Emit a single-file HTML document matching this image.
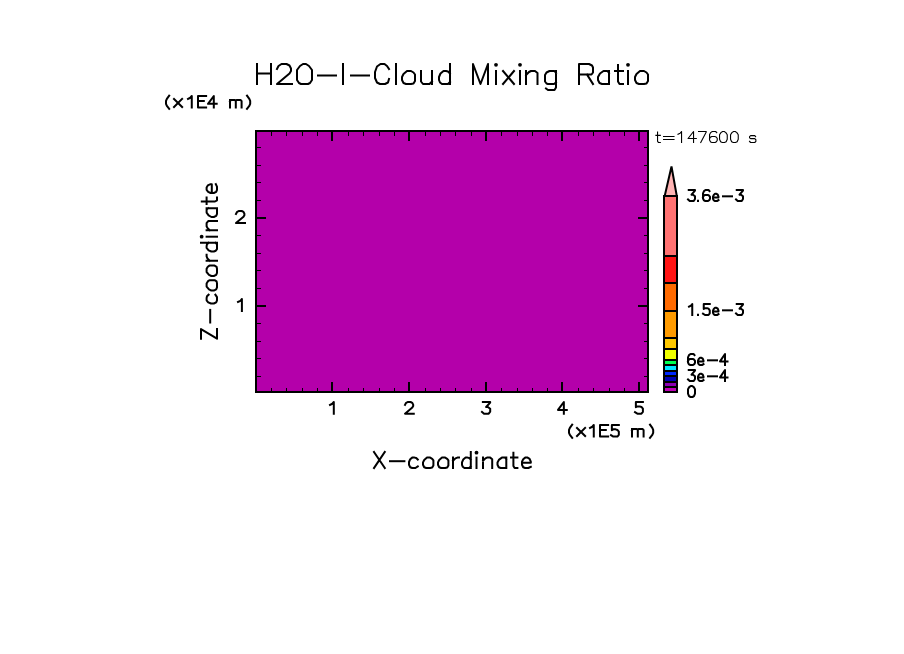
<!DOCTYPE html>
<html><head><meta charset="utf-8"><style>
html,body{margin:0;padding:0;background:#fff;}
body{width:904px;height:654px;overflow:hidden;font-family:"Liberation Sans",sans-serif;}
svg{display:block;}
</style></head><body>
<svg width="904" height="654" viewBox="0 0 904 654">
<rect x="0" y="0" width="904" height="654" fill="#fff"/>
<rect x="255" y="130" width="394" height="263" fill="#b400aa"/>
<g fill="#000" shape-rendering="crispEdges">
<rect x="271" y="132" width="1" height="4"/>
<rect x="271" y="388" width="1" height="3"/>
<rect x="286" y="132" width="1" height="4"/>
<rect x="286" y="388" width="1" height="3"/>
<rect x="302" y="132" width="1" height="4"/>
<rect x="302" y="388" width="1" height="3"/>
<rect x="317" y="132" width="1" height="4"/>
<rect x="317" y="388" width="1" height="3"/>
<rect x="331" y="132" width="2" height="9"/>
<rect x="331" y="382" width="2" height="9"/>
<rect x="348" y="132" width="1" height="4"/>
<rect x="348" y="388" width="1" height="3"/>
<rect x="363" y="132" width="1" height="4"/>
<rect x="363" y="388" width="1" height="3"/>
<rect x="379" y="132" width="1" height="4"/>
<rect x="379" y="388" width="1" height="3"/>
<rect x="394" y="132" width="1" height="4"/>
<rect x="394" y="388" width="1" height="3"/>
<rect x="408" y="132" width="2" height="9"/>
<rect x="408" y="382" width="2" height="9"/>
<rect x="425" y="132" width="1" height="4"/>
<rect x="425" y="388" width="1" height="3"/>
<rect x="440" y="132" width="1" height="4"/>
<rect x="440" y="388" width="1" height="3"/>
<rect x="455" y="132" width="1" height="4"/>
<rect x="455" y="388" width="1" height="3"/>
<rect x="471" y="132" width="1" height="4"/>
<rect x="471" y="388" width="1" height="3"/>
<rect x="485" y="132" width="2" height="9"/>
<rect x="485" y="382" width="2" height="9"/>
<rect x="501" y="132" width="1" height="4"/>
<rect x="501" y="388" width="1" height="3"/>
<rect x="517" y="132" width="1" height="4"/>
<rect x="517" y="388" width="1" height="3"/>
<rect x="532" y="132" width="1" height="4"/>
<rect x="532" y="388" width="1" height="3"/>
<rect x="547" y="132" width="1" height="4"/>
<rect x="547" y="388" width="1" height="3"/>
<rect x="561" y="132" width="2" height="9"/>
<rect x="561" y="382" width="2" height="9"/>
<rect x="578" y="132" width="1" height="4"/>
<rect x="578" y="388" width="1" height="3"/>
<rect x="593" y="132" width="1" height="4"/>
<rect x="593" y="388" width="1" height="3"/>
<rect x="609" y="132" width="1" height="4"/>
<rect x="609" y="388" width="1" height="3"/>
<rect x="624" y="132" width="1" height="4"/>
<rect x="624" y="388" width="1" height="3"/>
<rect x="638" y="132" width="2" height="9"/>
<rect x="638" y="382" width="2" height="9"/>
<rect x="257" y="376" width="4" height="1"/>
<rect x="644" y="376" width="3" height="1"/>
<rect x="257" y="358" width="4" height="1"/>
<rect x="644" y="358" width="3" height="1"/>
<rect x="257" y="341" width="4" height="1"/>
<rect x="644" y="341" width="3" height="1"/>
<rect x="257" y="323" width="4" height="1"/>
<rect x="644" y="323" width="3" height="1"/>
<rect x="257" y="305" width="9" height="2"/>
<rect x="638" y="305" width="9" height="2"/>
<rect x="257" y="288" width="4" height="1"/>
<rect x="644" y="288" width="3" height="1"/>
<rect x="257" y="270" width="4" height="1"/>
<rect x="644" y="270" width="3" height="1"/>
<rect x="257" y="253" width="4" height="1"/>
<rect x="644" y="253" width="3" height="1"/>
<rect x="257" y="235" width="4" height="1"/>
<rect x="644" y="235" width="3" height="1"/>
<rect x="257" y="217" width="9" height="2"/>
<rect x="638" y="217" width="9" height="2"/>
<rect x="257" y="200" width="4" height="1"/>
<rect x="644" y="200" width="3" height="1"/>
<rect x="257" y="182" width="4" height="1"/>
<rect x="644" y="182" width="3" height="1"/>
<rect x="257" y="165" width="4" height="1"/>
<rect x="644" y="165" width="3" height="1"/>
<rect x="257" y="147" width="4" height="1"/>
<rect x="644" y="147" width="3" height="1"/>
</g>
<rect x="256" y="131" width="392" height="261" fill="none" stroke="#000" stroke-width="2" shape-rendering="crispEdges"/>
<rect x="663" y="195" width="15" height="198" fill="#000"/>
<rect x="665" y="197" width="11" height="58" fill="#ff7272"/>
<rect x="665" y="257" width="11" height="25" fill="#ff1414"/>
<rect x="665" y="284" width="11" height="26" fill="#ff6a00"/>
<rect x="665" y="312" width="11" height="25" fill="#ff9b00"/>
<rect x="665" y="339" width="11" height="9" fill="#ffc800"/>
<rect x="665" y="350" width="11" height="9" fill="#f0ff00"/>
<rect x="665" y="361" width="11" height="3" fill="#00ff50"/>
<rect x="665" y="366" width="11" height="4" fill="#00e6ff"/>
<rect x="665" y="372" width="11" height="3" fill="#0028ff"/>
<rect x="665" y="377" width="11" height="4" fill="#0000b4"/>
<rect x="665" y="383" width="11" height="3" fill="#8c00b4"/>
<rect x="665" y="388" width="11" height="3" fill="#c000b8"/>
<path d="M664.7,196 L671.5,166.5 L676.8,196 Z" fill="#ffb4b4" stroke="#000" stroke-width="2" stroke-linejoin="miter"/>
<g fill="none" stroke="#000" stroke-linecap="square" stroke-linejoin="round">
<path transform="translate(257.00,64.00) scale(1.0,1.0)" d="M0,0V20M14,0V20M0,9.5H14" stroke-width="2" vector-effect="non-scaling-stroke"/>
<path transform="translate(277.00,64.00) scale(1.0,1.0)" d="M0,5L1.5,2L4.5,0H9.5L12.5,1.5L14,4.5V7L12.5,9.5L0,20H15" stroke-width="2" vector-effect="non-scaling-stroke"/>
<path transform="translate(297.00,64.00) scale(1.0,1.0)" d="M6,0H9L12,2L15,6V16L13,19L11,20H4L2,19L0,16V6L3,2Z" stroke-width="2" vector-effect="non-scaling-stroke"/>
<path transform="translate(318.00,64.00) scale(1.0,1.0)" d="M0,11.5H18" stroke-width="2" vector-effect="non-scaling-stroke"/>
<path transform="translate(343.00,64.00) scale(1.0,1.0)" d="M0,0V20" stroke-width="2" vector-effect="non-scaling-stroke"/>
<path transform="translate(351.00,64.00) scale(1.0,1.0)" d="M0,11.5H18" stroke-width="2" vector-effect="non-scaling-stroke"/>
<path transform="translate(375.00,64.00) scale(1.0,1.0)" d="M14,5L12,2L9.5,0H5.5L2,2.5L0,8V14L2,18.5L5,20H10L13,18.5L14,15" stroke-width="2" vector-effect="non-scaling-stroke"/>
<path transform="translate(396.00,64.00) scale(1.0,1.0)" d="M0,0V20" stroke-width="2" vector-effect="non-scaling-stroke"/>
<path transform="translate(402.00,64.00) scale(1.0,1.0)" d="M5,7H9L11.5,8.5L13,10.5V17L11.5,19.5L9,20H4L1.5,19L0,16V13L1.5,10Z" stroke-width="2" vector-effect="non-scaling-stroke"/>
<path transform="translate(421.00,64.00) scale(1.0,1.0)" d="M0,7V17.5L2,20H8.5L11,17.5M11,7V20" stroke-width="2" vector-effect="non-scaling-stroke"/>
<path transform="translate(439.00,64.00) scale(1.0,1.0)" d="M11,0V20M11,9.5L9,7.5L7,7H4.5L1.5,9.5L0,13V16L1,18.5L3,20H9L11,18" stroke-width="2" vector-effect="non-scaling-stroke"/>
<path transform="translate(473.00,64.00) scale(1.0,1.0)" d="M0,20V0L7.5,20L15,0V20" stroke-width="2" vector-effect="non-scaling-stroke"/>
<path transform="translate(496.00,64.00) scale(1.0,1.0)" d="M0,7V20" stroke-width="2" vector-effect="non-scaling-stroke"/>
<circle cx="496.00" cy="64.80" r="1.90" fill="#000" stroke="none"/>
<path transform="translate(503.00,64.00) scale(1.0,1.0)" d="M0,7L11,20M11,7L0,20" stroke-width="2" vector-effect="non-scaling-stroke"/>
<path transform="translate(520.00,64.00) scale(1.0,1.0)" d="M0,7V20" stroke-width="2" vector-effect="non-scaling-stroke"/>
<circle cx="520.00" cy="64.80" r="1.90" fill="#000" stroke="none"/>
<path transform="translate(526.00,64.00) scale(1.0,1.0)" d="M0,7V20M0,11L3,8L5,7H9L11.5,9V20" stroke-width="2" vector-effect="non-scaling-stroke"/>
<path transform="translate(545.00,64.00) scale(1.0,1.0)" d="M11,7V23.5L9.5,26H3L1,24.5M11,9L9.5,7H4.5L1.5,8.5L0,11V17.5L1.5,19.5L3,20H9L11,18.5" stroke-width="2" vector-effect="non-scaling-stroke"/>
<path transform="translate(579.00,64.00) scale(1.0,1.0)" d="M0,20V0H10L13,1.5L14,3.5V8.5L12.5,10.5H0M8,10.5L14,20" stroke-width="2" vector-effect="non-scaling-stroke"/>
<path transform="translate(598.00,64.00) scale(1.0,1.0)" d="M11,7V20M11,9L9.5,7H5.5L2,9.5L0,13V16L1.5,19L4,20H11" stroke-width="2" vector-effect="non-scaling-stroke"/>
<path transform="translate(615.00,64.00) scale(1.0,1.0)" d="M3,1V17.5L4.5,20H8M0,7H8" stroke-width="2" vector-effect="non-scaling-stroke"/>
<path transform="translate(628.00,64.00) scale(1.0,1.0)" d="M0,7V20" stroke-width="2" vector-effect="non-scaling-stroke"/>
<circle cx="628.00" cy="64.80" r="1.90" fill="#000" stroke="none"/>
<path transform="translate(635.00,64.00) scale(1.0,1.0)" d="M5,7H9L11.5,8.5L13,10.5V17L11.5,19.5L9,20H4L1.5,19L0,16V13L1.5,10Z" stroke-width="2" vector-effect="non-scaling-stroke"/>
<path transform="translate(166.00,96.00) scale(0.58,0.58)" d="M5.5,-0.5L1.5,5L0,8.5V13.5L1.5,17L5.5,22" stroke-width="2" vector-effect="non-scaling-stroke"/>
<path transform="translate(174.00,96.00) scale(0.58,0.58)" d="M0,5L14,19M14,5L0,19" stroke-width="2" vector-effect="non-scaling-stroke"/>
<path transform="translate(188.00,96.00) scale(0.58,0.58)" d="M0,5L4,3L6.5,0V20" stroke-width="2" vector-effect="non-scaling-stroke"/>
<path transform="translate(198.00,96.00) scale(0.58,0.58)" d="M14,0H0V20H14M0,8.5H10" stroke-width="2" vector-effect="non-scaling-stroke"/>
<path transform="translate(208.00,96.00) scale(0.58,0.58)" d="M10,20V0L0,13.5H15" stroke-width="2" vector-effect="non-scaling-stroke"/>
<path transform="translate(230.00,96.00) scale(0.58,0.58)" d="M0,7V20M0,9L1.5,7H8.5L10,8.5V20M10,8.5L11.5,7H18.5L20,9V20" stroke-width="2" vector-effect="non-scaling-stroke"/>
<path transform="translate(247.00,96.00) scale(0.58,0.58)" d="M0,-0.5L4,5L5.5,8.5V13.5L4,17L0,22" stroke-width="2" vector-effect="non-scaling-stroke"/>
<path transform="translate(569.00,425.00) scale(0.58,0.58)" d="M5.5,-0.5L1.5,5L0,8.5V13.5L1.5,17L5.5,22" stroke-width="2" vector-effect="non-scaling-stroke"/>
<path transform="translate(577.00,425.00) scale(0.58,0.58)" d="M0,5L14,19M14,5L0,19" stroke-width="2" vector-effect="non-scaling-stroke"/>
<path transform="translate(590.00,425.00) scale(0.58,0.58)" d="M0,5L4,3L6.5,0V20" stroke-width="2" vector-effect="non-scaling-stroke"/>
<path transform="translate(600.00,425.00) scale(0.58,0.58)" d="M14,0H0V20H14M0,8.5H10" stroke-width="2" vector-effect="non-scaling-stroke"/>
<path transform="translate(611.00,425.00) scale(0.58,0.58)" d="M13.5,0H1.5V9L4,7.5H8L11,8.5L13.5,11.5V17L11,20H4L0,17.5" stroke-width="2" vector-effect="non-scaling-stroke"/>
<path transform="translate(632.00,425.00) scale(0.58,0.58)" d="M0,7V20M0,9L1.5,7H8.5L10,8.5V20M10,8.5L11.5,7H18.5L20,9V20" stroke-width="2" vector-effect="non-scaling-stroke"/>
<path transform="translate(650.00,425.00) scale(0.58,0.58)" d="M0,-0.5L4,5L5.5,8.5V13.5L4,17L0,22" stroke-width="2" vector-effect="non-scaling-stroke"/>
<path transform="translate(330.00,402.00) scale(0.585,0.585)" d="M0,5L4,3L6.5,0V20" stroke-width="2" vector-effect="non-scaling-stroke"/>
<path transform="translate(405.00,402.00) scale(0.585,0.585)" d="M0,5L1.5,2L4.5,0H9.5L12.5,1.5L14,4.5V7L12.5,9.5L0,20H15" stroke-width="2" vector-effect="non-scaling-stroke"/>
<path transform="translate(482.00,402.00) scale(0.585,0.585)" d="M1.5,0H14V1L7,8.5H10L14,11.5V16.5L11.5,20H3.5L0,17" stroke-width="2" vector-effect="non-scaling-stroke"/>
<path transform="translate(558.00,402.00) scale(0.585,0.585)" d="M10,20V0L0,13.5H15" stroke-width="2" vector-effect="non-scaling-stroke"/>
<path transform="translate(635.00,402.00) scale(0.585,0.585)" d="M13.5,0H1.5V9L4,7.5H8L11,8.5L13.5,11.5V17L11,20H4L0,17.5" stroke-width="2" vector-effect="non-scaling-stroke"/>
<path transform="translate(236.00,211.00) scale(0.6,0.6)" d="M0,5L1.5,2L4.5,0H9.5L12.5,1.5L14,4.5V7L12.5,9.5L0,20H15" stroke-width="2" vector-effect="non-scaling-stroke"/>
<path transform="translate(238.00,299.00) scale(0.6,0.6)" d="M0,5L4,3L6.5,0V20" stroke-width="2" vector-effect="non-scaling-stroke"/>
<path transform="translate(374.00,452.00) scale(0.8,0.8)" d="M0,0L13.5,20M13.5,0L0,20" stroke-width="2" vector-effect="non-scaling-stroke"/>
<path transform="translate(390.00,452.00) scale(0.8,0.8)" d="M0,11.5H18" stroke-width="2" vector-effect="non-scaling-stroke"/>
<path transform="translate(409.00,452.00) scale(0.8,0.8)" d="M11,9.5L9,7.5L7,7H4L1.5,9L0,12.5V16L1.5,19L4,20H8L11,18" stroke-width="2" vector-effect="non-scaling-stroke"/>
<path transform="translate(423.00,452.00) scale(0.8,0.8)" d="M5,7H9L11.5,8.5L13,10.5V17L11.5,19.5L9,20H4L1.5,19L0,16V13L1.5,10Z" stroke-width="2" vector-effect="non-scaling-stroke"/>
<path transform="translate(438.00,452.00) scale(0.8,0.8)" d="M5,7H9L11.5,8.5L13,10.5V17L11.5,19.5L9,20H4L1.5,19L0,16V13L1.5,10Z" stroke-width="2" vector-effect="non-scaling-stroke"/>
<path transform="translate(453.00,452.00) scale(0.8,0.8)" d="M0,7V20M0,11L3,8L5.5,7H7.5" stroke-width="2" vector-effect="non-scaling-stroke"/>
<path transform="translate(462.00,452.00) scale(0.8,0.8)" d="M11,0V20M11,9.5L9,7.5L7,7H4.5L1.5,9.5L0,13V16L1,18.5L3,20H9L11,18" stroke-width="2" vector-effect="non-scaling-stroke"/>
<path transform="translate(476.50,452.00) scale(0.8,0.8)" d="M0,7V20" stroke-width="2" vector-effect="non-scaling-stroke"/>
<circle cx="476.50" cy="452.64" r="1.90" fill="#000" stroke="none"/>
<path transform="translate(483.00,452.00) scale(0.8,0.8)" d="M0,7V20M0,11L3,8L5,7H9L11.5,9V20" stroke-width="2" vector-effect="non-scaling-stroke"/>
<path transform="translate(497.50,452.00) scale(0.8,0.8)" d="M11,7V20M11,9L9.5,7H5.5L2,9.5L0,13V16L1.5,19L4,20H11" stroke-width="2" vector-effect="non-scaling-stroke"/>
<path transform="translate(511.00,452.00) scale(0.8,0.8)" d="M3,1V17.5L4.5,20H8M0,7H8" stroke-width="2" vector-effect="non-scaling-stroke"/>
<path transform="translate(522.00,452.00) scale(0.8,0.8)" d="M0,13.5H11V12L9.5,8.5L7,7H4L1.5,9L0,12V16L1.5,19L4,20H8L11,18.5" stroke-width="2" vector-effect="non-scaling-stroke"/>
<g transform="translate(201,339.7) rotate(-90)">
<path transform="translate(1.00,0.00) scale(0.8,0.8)" d="M0,0H12L0,20H12" stroke-width="2" vector-effect="non-scaling-stroke"/>
<path transform="translate(17.20,0.00) scale(0.8,0.8)" d="M0,11.5H15.75" stroke-width="2" vector-effect="non-scaling-stroke"/>
<path transform="translate(36.20,0.00) scale(0.8,0.8)" d="M11,9.5L9,7.5L7,7H4L1.5,9L0,12.5V16L1.5,19L4,20H8L11,18" stroke-width="2" vector-effect="non-scaling-stroke"/>
<path transform="translate(49.10,0.00) scale(0.8,0.8)" d="M5,7H9L11.5,8.5L13,10.5V17L11.5,19.5L9,20H4L1.5,19L0,16V13L1.5,10Z" stroke-width="2" vector-effect="non-scaling-stroke"/>
<path transform="translate(63.70,0.00) scale(0.8,0.8)" d="M5,7H9L11.5,8.5L13,10.5V17L11.5,19.5L9,20H4L1.5,19L0,16V13L1.5,10Z" stroke-width="2" vector-effect="non-scaling-stroke"/>
<path transform="translate(78.90,0.00) scale(0.8,0.8)" d="M0,7V20M0,11L3,8L5.5,7H7.5" stroke-width="2" vector-effect="non-scaling-stroke"/>
<path transform="translate(88.20,0.00) scale(0.8,0.8)" d="M11,0V20M11,9.5L9,7.5L7,7H4.5L1.5,9.5L0,13V16L1,18.5L3,20H9L11,18" stroke-width="2" vector-effect="non-scaling-stroke"/>
<path transform="translate(103.00,0.00) scale(0.8,0.8)" d="M0,7V20" stroke-width="2" vector-effect="non-scaling-stroke"/>
<circle cx="103.00" cy="0.64" r="1.90" fill="#000" stroke="none"/>
<path transform="translate(109.40,0.00) scale(0.8,0.8)" d="M0,7V20M0,11L3,8L5,7H9L11.5,9V20" stroke-width="2" vector-effect="non-scaling-stroke"/>
<path transform="translate(122.70,0.00) scale(0.8,0.8)" d="M11,7V20M11,9L9.5,7H5.5L2,9.5L0,13V16L1.5,19L4,20H11" stroke-width="2" vector-effect="non-scaling-stroke"/>
<path transform="translate(135.80,0.00) scale(0.8,0.8)" d="M3,1V17.5L4.5,20H8M0,7H8" stroke-width="2" vector-effect="non-scaling-stroke"/>
<path transform="translate(146.70,0.00) scale(0.8,0.8)" d="M0,13.5H11V12L9.5,8.5L7,7H4L1.5,9L0,12V16L1.5,19L4,20H8L11,18.5" stroke-width="2" vector-effect="non-scaling-stroke"/>
</g>
<path transform="translate(655.90,131.50) scale(0.55,0.55)" d="M3,1V17.5L4.5,20H8M0,7H8" stroke-width="1.1" vector-effect="non-scaling-stroke"/>
<path transform="translate(663.55,131.50) scale(0.55,0.55)" d="M0,9H19M0,14.5H19" stroke-width="1.1" vector-effect="non-scaling-stroke"/>
<path transform="translate(677.98,131.50) scale(0.55,0.55)" d="M0,5L4,3L6.5,0V20" stroke-width="1.1" vector-effect="non-scaling-stroke"/>
<path transform="translate(688.05,131.50) scale(0.55,0.55)" d="M10,20V0L0,12.7H15" stroke-width="1.1" vector-effect="non-scaling-stroke"/>
<path transform="translate(698.55,131.50) scale(0.55,0.55)" d="M0,0H14V1L4,20" stroke-width="1.1" vector-effect="non-scaling-stroke"/>
<path transform="translate(709.55,131.50) scale(0.55,0.55)" d="M13,2L11,0H5L2,2L0,6V15.5L2,19L4.5,20H10L12.5,18.5L14,16V12.5L12,10L9.5,9H4L1.5,10.5L0,13" stroke-width="1.1" vector-effect="non-scaling-stroke"/>
<path transform="translate(719.55,131.50) scale(0.55,0.55)" d="M5.5,0H8.5L11.5,2L14,6V14L12,18.5L9,20H5L2,18.5L0,14V6L2.5,2Z" stroke-width="1.1" vector-effect="non-scaling-stroke"/>
<path transform="translate(730.55,131.50) scale(0.55,0.55)" d="M5.5,0H8.5L11.5,2L14,6V14L12,18.5L9,20H5L2,18.5L0,14V6L2.5,2Z" stroke-width="1.1" vector-effect="non-scaling-stroke"/>
<path transform="translate(749.55,131.50) scale(0.55,0.55)" d="M11,9.5L9.5,7.5H2L0,9.5V11.5L2,13H9.5L11.5,15V18L9.5,20H2L0,18" stroke-width="1.1" vector-effect="non-scaling-stroke"/>
<path transform="translate(688.00,190.00) scale(0.5,0.55)" d="M1.5,0H14V1L7,8.5H10L14,11.5V16.5L11.5,20H3.5L0,17" stroke-width="2" vector-effect="non-scaling-stroke"/>
<path transform="translate(698.00,190.00) scale(0.5,0.55)" d="M0,19.5V20" stroke-width="2" vector-effect="non-scaling-stroke"/>
<path transform="translate(703.00,190.00) scale(0.5,0.55)" d="M13,2L11,0H5L2,2L0,6V15.5L2,19L4.5,20H10L12.5,18.5L14,16V12.5L12,10L9.5,9H4L1.5,10.5L0,13" stroke-width="2" vector-effect="non-scaling-stroke"/>
<path transform="translate(713.00,190.00) scale(0.5,0.55)" d="M0,13.5H11V12L9.5,8.5L7,7H4L1.5,9L0,12V16L1.5,19L4,20H8L11,18.5" stroke-width="2" vector-effect="non-scaling-stroke"/>
<path transform="translate(723.00,190.00) scale(0.5,0.55)" d="M0,11.5H18" stroke-width="2" vector-effect="non-scaling-stroke"/>
<path transform="translate(736.00,190.00) scale(0.5,0.55)" d="M1.5,0H14V1L7,8.5H10L14,11.5V16.5L11.5,20H3.5L0,17" stroke-width="2" vector-effect="non-scaling-stroke"/>
<path transform="translate(689.00,304.00) scale(0.5,0.55)" d="M0,5L4,3L6.5,0V20" stroke-width="2" vector-effect="non-scaling-stroke"/>
<path transform="translate(698.00,304.00) scale(0.5,0.55)" d="M0,19.5V20" stroke-width="2" vector-effect="non-scaling-stroke"/>
<path transform="translate(703.00,304.00) scale(0.5,0.55)" d="M13.5,0H1.5V9L4,7.5H8L11,8.5L13.5,11.5V17L11,20H4L0,17.5" stroke-width="2" vector-effect="non-scaling-stroke"/>
<path transform="translate(713.00,304.00) scale(0.5,0.55)" d="M0,13.5H11V12L9.5,8.5L7,7H4L1.5,9L0,12V16L1.5,19L4,20H8L11,18.5" stroke-width="2" vector-effect="non-scaling-stroke"/>
<path transform="translate(723.00,304.00) scale(0.5,0.55)" d="M0,11.5H18" stroke-width="2" vector-effect="non-scaling-stroke"/>
<path transform="translate(736.00,304.00) scale(0.5,0.55)" d="M1.5,0H14V1L7,8.5H10L14,11.5V16.5L11.5,20H3.5L0,17" stroke-width="2" vector-effect="non-scaling-stroke"/>
<path transform="translate(688.00,354.00) scale(0.5,0.55)" d="M13,2L11,0H5L2,2L0,6V15.5L2,19L4.5,20H10L12.5,18.5L14,16V12.5L12,10L9.5,9H4L1.5,10.5L0,13" stroke-width="2" vector-effect="non-scaling-stroke"/>
<path transform="translate(698.00,354.00) scale(0.5,0.55)" d="M0,13.5H11V12L9.5,8.5L7,7H4L1.5,9L0,12V16L1.5,19L4,20H8L11,18.5" stroke-width="2" vector-effect="non-scaling-stroke"/>
<path transform="translate(708.00,354.00) scale(0.5,0.55)" d="M0,11.5H18" stroke-width="2" vector-effect="non-scaling-stroke"/>
<path transform="translate(720.00,354.00) scale(0.5,0.55)" d="M10,20V0L0,13.5H15" stroke-width="2" vector-effect="non-scaling-stroke"/>
<path transform="translate(688.00,370.00) scale(0.5,0.55)" d="M1.5,0H14V1L7,8.5H10L14,11.5V16.5L11.5,20H3.5L0,17" stroke-width="2" vector-effect="non-scaling-stroke"/>
<path transform="translate(698.00,370.00) scale(0.5,0.55)" d="M0,13.5H11V12L9.5,8.5L7,7H4L1.5,9L0,12V16L1.5,19L4,20H8L11,18.5" stroke-width="2" vector-effect="non-scaling-stroke"/>
<path transform="translate(708.00,370.00) scale(0.5,0.55)" d="M0,11.5H18" stroke-width="2" vector-effect="non-scaling-stroke"/>
<path transform="translate(720.00,370.00) scale(0.5,0.55)" d="M10,20V0L0,13.5H15" stroke-width="2" vector-effect="non-scaling-stroke"/>
<path transform="translate(688.00,386.00) scale(0.5,0.55)" d="M5.5,0H8.5L11.5,2L14,6V14L12,18.5L9,20H5L2,18.5L0,14V6L2.5,2Z" stroke-width="2" vector-effect="non-scaling-stroke"/>
</g>
</svg>
</body></html>
